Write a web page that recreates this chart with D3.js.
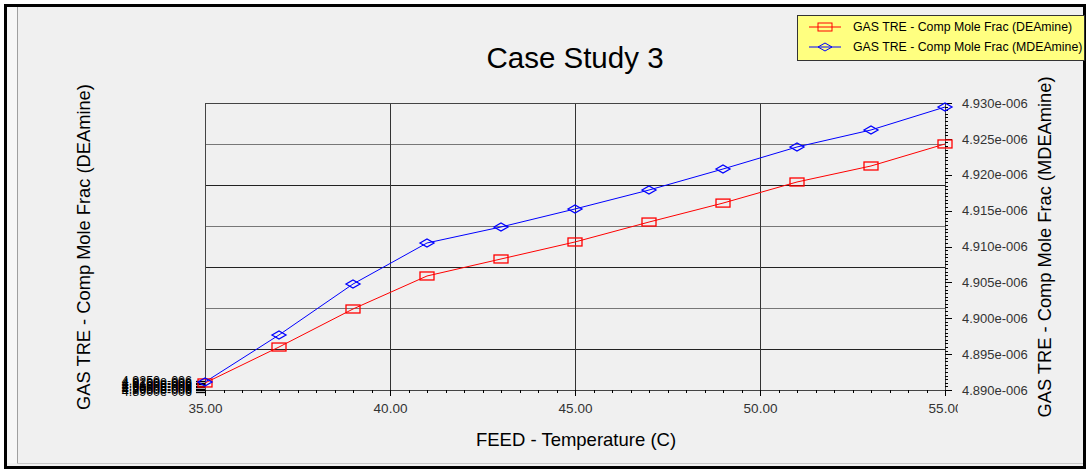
<!DOCTYPE html>
<html><head><meta charset="utf-8">
<script src="https://cdn.jsdelivr.net/npm/d3@7"></script>
<style>
html,body{margin:0;padding:0;background:#fff;}
svg{display:block;font-family:"Liberation Sans",Arial,sans-serif;}
</style></head>
<body>
<svg id="c" width="1088" height="473"></svg>
<script>
const temps = [35,37,39,41,43,45,47,49,51,53,55];
const deamine = [4.89098e-6,4.89599e-6,4.90129e-6,4.90589e-6,4.90826e-6,4.91063e-6,4.91341e-6,4.91605e-6,4.91899e-6,4.92122e-6,4.92429e-6];
const mdeamine = [4.89111e-6,4.89767e-6,4.90477e-6,4.91049e-6,4.91272e-6,4.91523e-6,4.91787e-6,4.92080e-6,4.92387e-6,4.92624e-6,4.92944e-6];
const xTicks = [35,40,45,50,55];
const rightTicks = [4.890e-6,4.895e-6,4.900e-6,4.905e-6,4.910e-6,4.915e-6,4.920e-6,4.925e-6,4.930e-6];
const leftTickLabels = ["4.8900e-006","4.8950e-006","4.9000e-006","4.9050e-006","4.9100e-006","4.9150e-006","4.9200e-006","4.9250e-006"];
const seriesNames = ["GAS TRE - Comp Mole Frac (DEAmine)","GAS TRE - Comp Mole Frac (MDEAmine)"];

const svg = d3.select("#c");
// frame
svg.append("rect").attr("x",0).attr("y",0).attr("width",1088).attr("height",473).attr("fill","#ffffff");
svg.append("rect").attr("x",5.5).attr("y",5.5).attr("width",1079).attr("height",462).attr("fill","#f0f0f0").attr("stroke","#000").attr("stroke-width",3);
svg.append("rect").attr("x",7).attr("y",7).attr("width",10).attr("height",456).attr("fill","#f7f7f7");
svg.append("line").attr("x1",17.5).attr("x2",17.5).attr("y1",7).attr("y2",463).attr("stroke","#a0a0a0");
svg.append("line").attr("x1",17).attr("x2",1083).attr("y1",463.5).attr("y2",463.5).attr("stroke","#c8c8c8");

const L=205, R=945, T=103, B=390;
const x = d3.scaleLinear().domain([35,55]).range([L,R]);
const y = d3.scaleLinear().domain([4.890e-6,4.930e-6]).range([B,T]);
const yGrid = d3.scaleLinear().domain([0,7]).range([B,T]);
const yLeftLab = d3.scaleLinear().domain([0,7]).range([392,381]);

// title
svg.append("text").attr("x",575).attr("y",68).attr("text-anchor","middle").attr("font-size",29.5).attr("fill","#000").text("Case Study 3");

// grid
const g = svg.append("g").attr("shape-rendering","crispEdges");
d3.range(1,7).forEach((i)=>{
  g.append("line").attr("x1",L).attr("x2",R).attr("y1",Math.round(yGrid(i))+0.5).attr("y2",Math.round(yGrid(i))+0.5)
   .attr("stroke", i%2===0 ? "#777" : "#222").attr("stroke-width",1);
});
xTicks.slice(1,-1).forEach(v=>{
  g.append("line").attr("x1",Math.round(x(v))+0.5).attr("x2",Math.round(x(v))+0.5).attr("y1",T).attr("y2",B).attr("stroke","#333");
});
g.append("rect").attr("x",L+0.5).attr("y",T+0.5).attr("width",R-L).attr("height",B-T).attr("fill","none").attr("stroke","#444");

// bottom axis
const xAxis = d3.axisBottom(x).tickValues(xTicks).tickFormat(d3.format(".2f")).tickSize(6).tickPadding(7);
const xMinor = d3.axisBottom(x).tickValues(d3.range(35,55.01,0.5)).tickFormat("").tickSize(3);
svg.append("clipPath").attr("id","xc").append("rect").attr("x",0).attr("y",0).attr("width",958).attr("height",473);
const gx = svg.append("g").attr("transform",`translate(0,${B})`).attr("clip-path","url(#xc)").call(xAxis);
svg.append("g").attr("transform",`translate(0,${B})`).call(xMinor);
svg.selectAll(".domain").remove();
gx.selectAll("text").attr("font-size",13.5).attr("fill","#333").attr("font-family","Liberation Sans, Arial, sans-serif");

// right axis
const yAxis = d3.axisRight(y).tickValues(rightTicks).tickFormat(d=>(d*1e6).toFixed(3)+"e-006").tickSize(7).tickPadding(10);
const yMinor = d3.axisRight(y).tickValues(d3.range(0,81).map(i=>4.890e-6+i*0.0005e-6)).tickFormat("").tickSize(3);
const gy = svg.append("g").attr("transform",`translate(${R},0)`).call(yAxis);
const gyM = svg.append("g").attr("transform",`translate(${R},0)`).call(yMinor);
gy.select(".domain").remove(); gyM.select(".domain").remove();
gy.selectAll("text").attr("font-size",13).attr("fill","#333").attr("font-family","Liberation Sans, Arial, sans-serif");
svg.selectAll(".tick line").attr("stroke","#000").attr("shape-rendering","crispEdges");

// left axis (compressed labels, as in the source)
const gl = svg.append("g");
leftTickLabels.forEach((t,i)=>{
  gl.append("text").attr("x",192).attr("y",yLeftLab(i)+4).attr("text-anchor","end").attr("font-size",12.5).attr("fill","#000").text(t);
  gl.append("line").attr("x1",196).attr("x2",L).attr("y1",Math.round(yLeftLab(i))+0.5).attr("y2",Math.round(yLeftLab(i))+0.5).attr("stroke","#000").attr("stroke-width",1.3);
});

// axis titles
svg.append("text").attr("x",576).attr("y",446).attr("text-anchor","middle").attr("font-size",18.5).attr("fill","#000").text("FEED - Temperature (C)");
svg.append("text").attr("transform","translate(90,247) rotate(-90)").attr("text-anchor","middle").attr("font-size",18.3).attr("fill","#000").text("GAS TRE - Comp Mole Frac (DEAmine)");
svg.append("text").attr("transform","translate(1051,247) rotate(-90)").attr("text-anchor","middle").attr("font-size",18.3).attr("fill","#000").text("GAS TRE - Comp Mole Frac (MDEAmine)");

// series
const line = d3.line().x((d,i)=>x(temps[i])).y(d=>y(d));
svg.append("path").datum(deamine).attr("d",line).attr("fill","none").attr("stroke","#ff0000").attr("stroke-width",1);
svg.append("path").datum(mdeamine).attr("d",line).attr("fill","none").attr("stroke","#0000ff").attr("stroke-width",1);
svg.selectAll(".sq").data(deamine).join("rect").attr("x",(d,i)=>x(temps[i])-7).attr("y",d=>y(d)-4).attr("width",14).attr("height",8)
  .attr("fill","none").attr("stroke","#ff0000").attr("stroke-width",1.3);
const diamond = (cx,cy)=>`M${cx-7},${cy}L${cx},${cy-4}L${cx+7},${cy}L${cx},${cy+4}Z`;
svg.selectAll(".dm").data(mdeamine).join("path").attr("d",(d,i)=>diamond(x(temps[i]),y(d)))
  .attr("fill","none").attr("stroke","#0000ff").attr("stroke-width",1.3);

// legend
const lg = svg.append("g");
lg.append("rect").attr("x",797.5).attr("y",15.5).attr("width",287).attr("height",45).attr("fill","#ffff80").attr("stroke","#333");
const colors = ["#ff0000","#0000ff"];
seriesNames.forEach((n,i)=>{
  const yy = 27 + i*20;
  lg.append("line").attr("x1",809).attr("x2",841).attr("y1",yy).attr("y2",yy).attr("stroke",colors[i]);
  if(i===0) lg.append("rect").attr("x",818).attr("y",yy-4).attr("width",14).attr("height",8).attr("fill","none").attr("stroke",colors[i]);
  else lg.append("path").attr("d",diamond(825,yy)).attr("fill","none").attr("stroke",colors[i]);
  lg.append("text").attr("x",853).attr("y",yy+4).attr("font-size",12.3).attr("fill","#000").text(n);
});
</script>
</body></html>
